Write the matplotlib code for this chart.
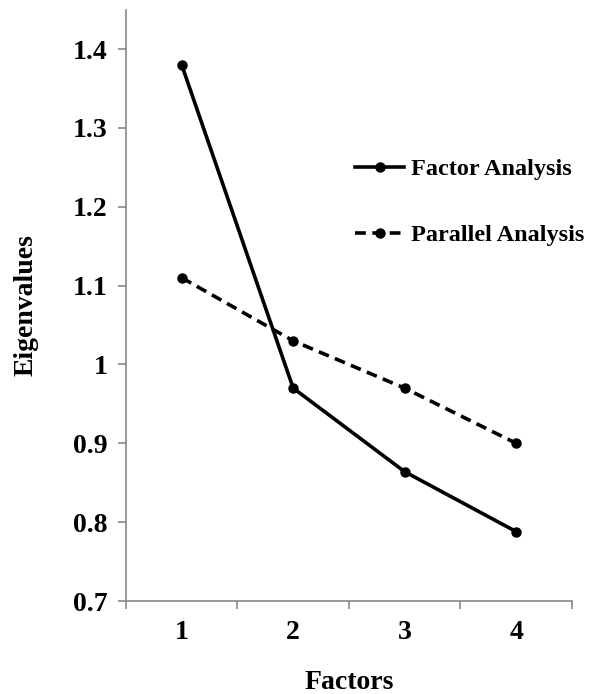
import matplotlib.pyplot as plt
from matplotlib.ticker import FixedLocator

factors = [1, 2, 3, 4]
factor_analysis = [1.38, 0.97, 0.864, 0.788]
parallel_analysis = [1.11, 1.03, 0.97, 0.90]
y_ticks = [0.7, 0.8, 0.9, 1.0, 1.1, 1.2, 1.3, 1.4]
y_tick_labels = ['0.7', '0.8', '0.9', '1', '1.1', '1.2', '1.3', '1.4']

plt.rcParams['font.family'] = ['Liberation Serif', 'DejaVu Serif']
plt.rcParams['font.weight'] = 'bold'

fig = plt.figure(figsize=(5.97, 6.94), dpi=100)
ax = fig.add_axes([0.211, 0.134, 0.747, 0.852])

ax.plot(factors, factor_analysis, color='black', linewidth=2.6,
        marker='o', markersize=6.5, label='Factor Analysis')
ax.plot(factors, parallel_analysis, color='black', linewidth=2.6,
        linestyle=(0, (3, 1.8)), marker='o', markersize=6.5,
        label='Parallel Analysis')

ax.set_xlim(0.5, 4.5)
ax.set_ylim(0.7, 1.45)
ax.set_yticks(y_ticks)
ax.set_yticklabels(y_tick_labels)
ax.set_xticks(factors)
ax.xaxis.set_minor_locator(FixedLocator([0.5, 1.5, 2.5, 3.5, 4.5]))
ax.tick_params(axis='x', which='major', length=0, pad=14, labelsize=20)
ax.tick_params(axis='x', which='minor', length=6, color='#888888', width=1.2)
ax.tick_params(axis='y', length=6, color='#888888', width=1.2, pad=7, labelsize=20)

for side in ['top', 'right']:
    ax.spines[side].set_visible(False)
for side in ['left', 'bottom']:
    ax.spines[side].set_color('#888888')
    ax.spines[side].set_linewidth(1.2)

ax.set_xlabel('Factors', fontsize=20, fontweight='bold', labelpad=18)
ax.set_ylabel('Eigenvalues', fontsize=20, fontweight='bold', labelpad=25)

ax.legend(loc='upper left', bbox_to_anchor=(0.491, 0.765), borderaxespad=0,
          frameon=False, fontsize=17.5, handlelength=2.05,
          handletextpad=0.25, labelspacing=1.8)

fig.savefig('out.png', dpi=100)
